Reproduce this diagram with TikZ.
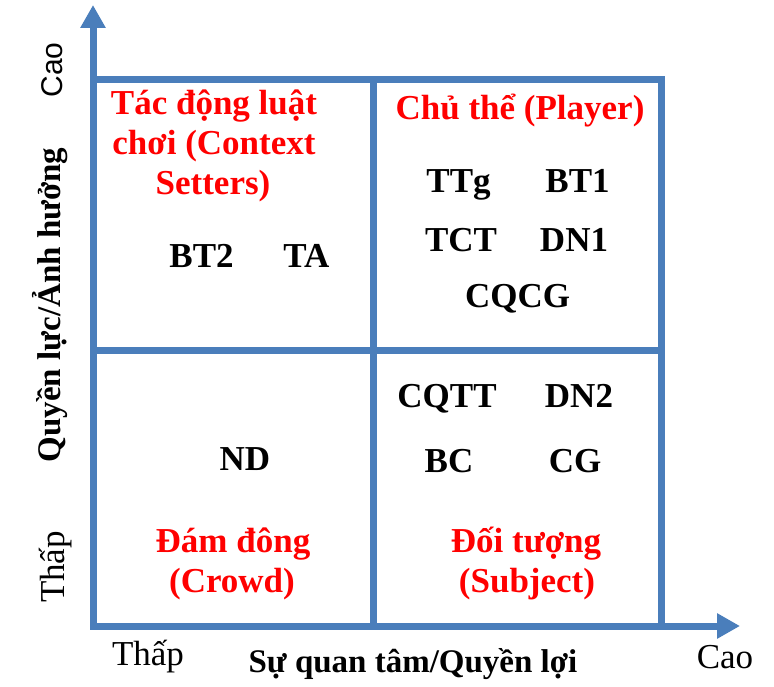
\documentclass[tikz,border=0pt]{standalone}
\usepackage{fontspec}
\setmainfont{Liberation Serif}
\newfontfamily\axsans{Liberation Sans}
\usetikzlibrary{arrows.meta}
\definecolor{axblue}{HTML}{4A7EBB}
\definecolor{qred}{HTML}{FF0000}
\begin{document}
\begin{tikzpicture}[x=1pt,y=-1pt,
  gridline/.style={draw=axblue, line width=7pt},
  axisline/.style={draw=axblue, line width=7pt, line join=miter,
    {Triangle[length=23pt,width=24pt]}-{Triangle[length=23pt,width=24pt]}},
  lab/.style={font=\bfseries\fontsize{35}{40}\selectfont, anchor=base, inner sep=0pt},
  qtitle/.style={lab, text=qred},
  axbold/.style={font=\bfseries\fontsize{33}{38}\selectfont, anchor=base, inner sep=0pt},
  axreg/.style={font=\fontsize{35}{40}\selectfont, anchor=base, inner sep=0pt}
]
\useasboundingbox (0,0) rectangle (774,687);
% axes
\coordinate (ytip) at (93,5);
\coordinate (origin) at (93,626);
\coordinate (xtip) at (740,626);
\draw[axisline] (ytip) -- (origin) -- (xtip);
% quadrant grid
\draw[gridline] (93,80) rectangle (661,626);
\draw[gridline] (373,80) -- (373,626);
\draw[gridline] (93,350) -- (661,350);
% quadrant titles
\node[qtitle] (ctx1) at (214,115) {Tác động luật};
\node[qtitle] (ctx2) at (214,155) {chơi (Context};
\node[qtitle] (ctx3) at (213,195) {Setters)};
\node[qtitle] (ply) at (520,120) {Chủ thể (Player)};
\node[qtitle] (crw1) at (233,552) {Đám đông};
\node[qtitle] (crw2) at (232,592) {(Crowd)};
\node[qtitle] (sbj1) at (526,552) {Đối tượng};
\node[qtitle] (sbj2) at (527,592) {(Subject)};
% stakeholders
\node[lab] (bt2) at (201.5,268) {BT2};
\node[lab] (ta) at (306.5,268) {TA};
\node[lab] (nd) at (245,470) {ND};
\node[lab] (ttg) at (458.5,193) {TTg};
\node[lab] (bt1) at (577.5,193) {BT1};
\node[lab] (tct) at (461,252) {TCT};
\node[lab] (dn1) at (574,252) {DN1};
\node[lab] (cqcg) at (517.5,307) {CQCG};
\node[lab] (cqtt) at (447,407) {CQTT};
\node[lab] (dn2) at (579,407) {DN2};
\node[lab] (bc) at (449,472) {BC};
\node[lab] (cg) at (575,472) {CG};
% axis labels
\node[axbold, rotate=90] (ylab) at (60,305) {Quyền lực/Ảnh hưởng};
\node[font=\axsans\fontsize{30}{34}\selectfont, anchor=base, inner sep=0pt, rotate=90] (yhigh) at (62,70) {Cao};
\node[axreg, rotate=90] (ylow) at (64,567) {Thấp};
\node[axreg] (xlow) at (148,665) {Thấp};
\node[axreg] (xhigh) at (725,668) {Cao};
\node[axbold] (xlab) at (413,672) {Sự quan tâm/Quyền lợi};
\end{tikzpicture}
\end{document}
